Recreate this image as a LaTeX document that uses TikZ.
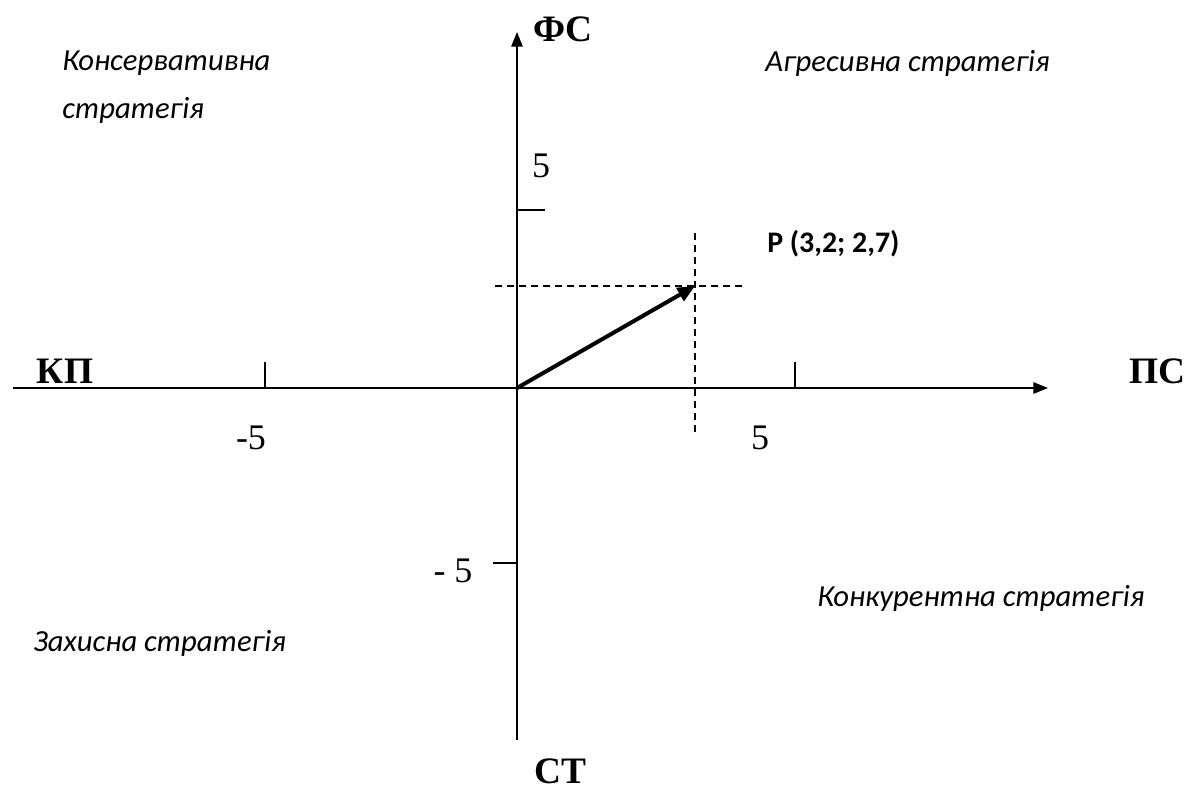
\documentclass[tikz,border=0pt]{standalone}
\usepackage{fontspec}
\setmainfont{Liberation Serif}
\newfontfamily\calib{Carlito}
\usetikzlibrary{arrows.meta}
\tikzset{
  axis/.style={line width=1.5pt, -{Triangle[length=11pt,width=8.5pt]}},
  tickline/.style={line width=1.1pt},
  guide/.style={line width=1pt, dash pattern=on 5pt off 4pt},
  vec/.style={line width=3pt, -{Triangle[length=13pt,width=11pt]}},
  axlabel/.style={font=\fontsize{28}{30}\selectfont\bfseries, inner sep=0pt},
  num/.style={font=\fontsize{27}{30}\selectfont, inner sep=0pt},
  strat/.style={font=\calib\itshape\fontsize{23}{26}\selectfont, inner sep=0pt, anchor=west},
}
\begin{document}
\begin{tikzpicture}[x=0.75pt,y=-0.75pt]
\useasboundingbox (0,0) rectangle (1190,789);
% axes
\coordinate (O) at (517,388);
\coordinate (xl) at (13,388);
\coordinate (xr) at (1048,388);
\coordinate (yb) at (517,740);
\coordinate (yt) at (517,32);
\draw[line width=1.5pt] (xl) -- (O);
\draw[axis] (O) -- (xr);
\draw[line width=1.5pt] (yb) -- (O);
\draw[axis] (O) -- (yt);
% ticks
\coordinate (tl1) at (265,362); \coordinate (tl2) at (265,388);
\coordinate (tr1) at (795,362); \coordinate (tr2) at (795,388);
\coordinate (tu1) at (517,210); \coordinate (tu2) at (545,210);
\coordinate (td1) at (493,563); \coordinate (td2) at (517,563);
\draw[tickline] (tl1) -- (tl2);
\draw[tickline] (tr1) -- (tr2);
\draw[tickline] (tu1) -- (tu2);
\draw[tickline] (td1) -- (td2);
% guides
\coordinate (P) at (695,286);
\coordinate (gh1) at (495,286); \coordinate (gh2) at (745,286);
\coordinate (gv1) at (695,233); \coordinate (gv2) at (695,435);
\draw[guide] (gh1) -- (gh2);
\draw[guide] (gv1) -- (gv2);
% vector
\draw[vec] (O) -- (P);
% labels
\node[axlabel] (fs) at (563,29) {ФС};
\node[axlabel] (ps) at (1157,371) {ПС};
\node[axlabel] (kp) at (65,371) {КП};
\node[axlabel] (st) at (560,771) {СТ};
\node[num] (n5u) at (541,166) {5};
\node[num] (n5r) at (760,438) {5};
\node[num] (n5l) at (251,438) {-5};
\node[num] (n5d) at (453,571) {- 5};
\node[font=\calib\bfseries\fontsize{22.4}{26}\selectfont, inner sep=0pt, anchor=west] (plab) at (767,244) {P (3,2; 2,7)};
\node[strat] (kons1) at (62,63) {Консервативна};
\node[strat] (kons2) at (62,110) {стратегія};
\node[strat] (agr) at (765,63) {Агресивна стратегія};
\node[strat] (konk) at (817,598) {Конкурентна стратегія};
\node[strat] (zakh) at (33,643) {Захисна стратегія};
\end{tikzpicture}
\end{document}
